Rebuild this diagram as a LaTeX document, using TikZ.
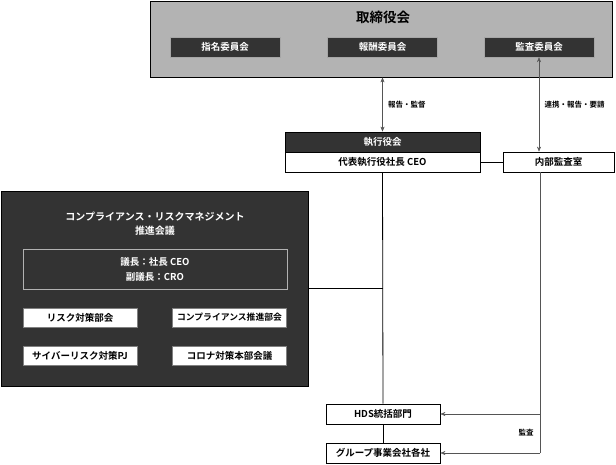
\documentclass[tikz,border=0pt]{standalone}
\usepackage{fontspec}
\setmainfont{Noto Sans CJK JP}[BoldFont={Noto Sans CJK JP Bold}]
\usepackage{tikz}
\usetikzlibrary{arrows.meta,calc,positioning}
\definecolor{darkbox}{HTML}{333333}
\definecolor{boardgray}{HTML}{B3B3B3}
\definecolor{linegray}{HTML}{555555}

\begin{document}
\begin{tikzpicture}[x=1pt,y=-1pt,
		every node/.style={font=\bfseries\fontsize{9.5}{11}\selectfont},
		darkcell/.style={draw=gray!70, fill=darkbox, text=white, minimum width=110pt, minimum height=20pt, inner sep=0pt},
		whitecell/.style={draw, thick, fill=white, minimum height=20pt, inner sep=0pt},
		smallcell/.style={draw=gray, fill=white, minimum width=114pt, minimum height=19pt, inner sep=0pt},
		label/.style={font=\bfseries\fontsize{7.5}{9}\selectfont, anchor=west},
		>={Stealth[length=5pt,width=4pt]}
		]
		\useasboundingbox (0,0) rectangle (616,464);
		
		% 取締役会
		\node[draw, thick, fill=boardgray, minimum width=462pt, minimum height=76pt, inner sep=0pt] (board) at (381,39) {};
		\node[font=\bfseries\fontsize{13.5}{15}\selectfont] (boardtitle) at (383,17) {取締役会};
		\node[darkcell] (shimei) at (225,47) {指名委員会};
		\node[darkcell] (hoshu) at (382.5,47) {報酬委員会};
		\node[darkcell] (kansa) at (539,47) {監査委員会};
		
		% 執行役会
		\node[draw, thick, fill=darkbox, text=white, minimum width=195pt, minimum height=20pt, inner sep=0pt] (shikko) at (382.5,142) {執行役会};
		\node[whitecell, minimum width=195pt] (ceo) at (382.5,162) {代表執行役社長 CEO};
		\node[whitecell, minimum width=111pt] (naibu) at (558.5,162) {内部監査室};
		
		% 会議
		\node[draw, thick, fill=darkbox, minimum width=307pt, minimum height=195pt, inner sep=0pt] (conf) at (154.5,288.5) {};
		\node[text=white, align=center, font=\bfseries\fontsize{10}{14}\selectfont] (conftitle) at (155,224) {コンプライアンス・リスクマネジメント\\推進会議};
		\node[draw=gray!60, text=white, align=center, font=\bfseries\fontsize{9.5}{15}\selectfont, minimum width=264pt, minimum height=40pt, inner sep=0pt] (chair) at (155,269) {議長：社長 CEO\\副議長：CRO};
		\node[smallcell] (risk) at (80,317.5) {リスク対策部会};
		\node[smallcell, font=\bfseries\fontsize{8.8}{10}\selectfont] (comp) at (229.5,317.5) {コンプライアンス推進部会};
		\node[smallcell] (cyber) at (80,356) {サイバーリスク対策PJ};
		\node[smallcell] (corona) at (229.5,356) {コロナ対策本部会議};
		
		% グループ
		\node[whitecell, minimum width=114pt] (hds) at (383,414) {HDS統括部門};
		\node[whitecell, minimum width=114pt] (group) at (383,453) {グループ事業会社各社};
		\coordinate (audit) at (540,453);
		
		% 矢印
		\draw[<->, linegray] (shikko.north) -- (shikko.north |- board.south) node[midway, label, text=black, xshift=2pt] {報告・監督};
		\draw[<->, linegray] (kansa.south) -- (kansa.south |- naibu.north) node[midway, label, text=black, xshift=2pt] {連携・報告・要請};
		
		% 線
		\draw[thick] (ceo.east) -- (naibu.west);
		\draw[thick] (ceo.south) -- (hds.north);
		\draw[thick] (hds.south) -- (group.north);
		\draw[thick] (conf.east) -- (conf.east -| ceo.south);
		\draw[linegray] (naibu.south -| audit) -- (audit);
		\draw[->, linegray] (audit) -- (group.east);
		\draw[->, linegray] (audit |- hds.east) -- (hds.east);
		\node[font=\bfseries\fontsize{7.5}{9}\selectfont] (auditlabel) at (526,433) {監査};
	\end{tikzpicture}
\end{document}
